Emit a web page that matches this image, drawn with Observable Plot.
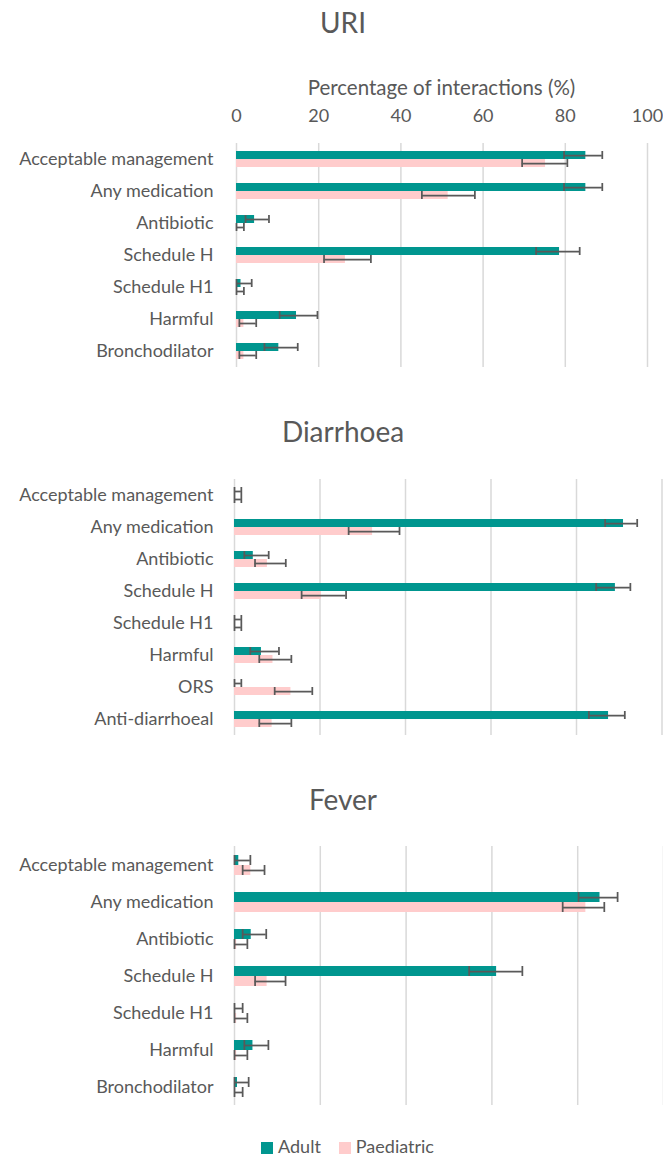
<!DOCTYPE html>
<html>
<head>
<meta charset="utf-8">
<script src="https://cdn.jsdelivr.net/npm/d3@7"></script>
<script src="https://cdn.jsdelivr.net/npm/@observablehq/plot@0.6"></script>
<style>
  html, body { margin: 0; padding: 0; background: #fff; }
  #root { position: relative; width: 663px; height: 1157px; overflow: hidden; font-family: Lato, sans-serif; color: #595959; }
  .title { position: absolute; left: 0; width: 686px; text-align: center; font-size: 28px; line-height: 28px; }
  .axt { position: absolute; left: 236px; width: 411px; text-align: center; font-size: 20.5px; line-height: 20.5px; }
  .legend { position: absolute; top: 1139px; left: 0; width: 663px; display: flex; justify-content: center; gap: 18px; font-size: 18px; line-height: 14px; padding-left: 32px; box-sizing: border-box; }
  .legend span.sw { display: inline-block; width: 12px; height: 12px; margin-right: 5px; vertical-align: -1px; }
</style>
</head>
<body>
<div id="root"></div>
<script>
const seriesNames = ["Adult", "Paediatric"];
const seriesColors = ["#00968f", "#ffcccc"];
const xTicks = [0, 20, 40, 60, 80, 100];
const axisTitle = "Percentage of interactions (%)";

// URI
const uriTitle = "URI";
const uriCats = ["Acceptable management", "Any medication", "Antibiotic", "Schedule H", "Schedule H1", "Harmful", "Bronchodilator"];
const uriAdult   = [85.0, 85.0, 4.4, 78.6, 1.1, 14.6, 10.3];
const uriAdultLo = [79.7, 79.7, 2.2, 72.9, 0.0, 10.5, 6.8];
const uriAdultHi = [89.0, 89.0, 7.9, 83.5, 3.7, 19.7, 14.9];
const uriPaed    = [75.2, 51.5, 0.0, 26.5, 0.0, 1.8, 1.8];
const uriPaedLo  = [69.5, 45.1, 0.0, 21.3, 0.0, 0.7, 0.7];
const uriPaedHi  = [80.5, 58.0, 1.8, 32.7, 1.8, 4.8, 4.8];

// Diarrhoea
const diaTitle = "Diarrhoea";
const diaCats = ["Acceptable management", "Any medication", "Antibiotic", "Schedule H", "Schedule H1", "Harmful", "ORS", "Anti-diarrhoeal"];
const diaAdult   = [0.0, 91.0, 4.4, 89.1, 0.0, 6.3, 0.0, 87.5];
const diaAdultLo = [0.0, 86.7, 2.3, 84.6, 0.0, 3.7, 0.0, 82.9];
const diaAdultHi = [1.6, 94.2, 8.0, 92.6, 1.6, 10.4, 1.6, 91.3];
const diaPaed    = [0.0, 32.3, 7.7, 20.3, 0.0, 9.0, 13.2, 8.8];
const diaPaedLo  = [0.0, 26.7, 4.8, 15.7, 0.0, 5.8, 9.4, 5.8];
const diaPaedHi  = [1.6, 38.6, 12.0, 26.1, 1.6, 13.3, 18.2, 13.3];

// Fever
const fevTitle = "Fever";
const fevCats = ["Acceptable management", "Any medication", "Antibiotic", "Schedule H", "Schedule H1", "Harmful", "Bronchodilator"];
const fevAdult   = [1.0, 85.2, 3.9, 61.1, 0.0, 4.3, 0.7];
const fevAdultLo = [0.0, 80.2, 1.9, 54.7, 0.0, 2.3, 0.0];
const fevAdultHi = [3.7, 89.3, 7.4, 67.1, 1.9, 7.9, 3.3];
const fevPaed    = [3.8, 81.9, 0.5, 7.6, 0.5, 0.5, 0.0];
const fevPaedLo  = [1.9, 76.5, 0.0, 4.8, 0.0, 0.0, 0.0];
const fevPaedHi  = [7.0, 86.2, 3.0, 11.9, 3.0, 3.0, 1.9];

function rowsOf(cats, a, aLo, aHi, p, pLo, pHi) {
  const rows = [];
  cats.forEach((c, i) => {
    rows.push({cat: c, series: seriesNames[0], value: a[i], lo: aLo[i], hi: aHi[i]});
    rows.push({cat: c, series: seriesNames[1], value: p[i], lo: pLo[i], hi: pHi[i]});
  });
  return rows;
}

function panel(cats, rows, o) {
  const err = "#595959";
  return Plot.plot({
    width: 663,
    height: o.height,
    marginLeft: o.ml,
    marginRight: o.mr,
    marginTop: o.mt,
    marginBottom: o.mb,
    style: {fontFamily: "Lato, sans-serif", fontSize: "18px", color: "#595959", background: "transparent", overflow: "visible"},
    x: o.top
      ? {domain: [0, 100], axis: "top", ticks: xTicks, tickSize: 0, tickPadding: o.tp, label: null}
      : {domain: [0, 100], axis: null},
    fy: {domain: cats, padding: 0, axis: "left", tickSize: 0, tickPadding: o.lp, label: null},
    y: {domain: seriesNames, paddingInner: 0, paddingOuter: o.po, axis: null},
    color: {domain: seriesNames, range: seriesColors},
    marks: [
      Plot.gridX(xTicks, {stroke: "#d9d9d9", strokeOpacity: 1, strokeWidth: 1.5}),
      Plot.barX(rows, {x: "value", y: "series", fy: "cat", fill: "series"}),
      Plot.ruleY(rows, {x1: "lo", x2: "hi", y: "series", fy: "cat", stroke: err, strokeWidth: 1.75}),
      Plot.tickX(rows, {x: "lo", y: "series", fy: "cat", stroke: err, strokeWidth: 1.75}),
      Plot.tickX(rows, {x: "hi", y: "series", fy: "cat", stroke: err, strokeWidth: 1.75})
    ]
  });
}

const root = document.getElementById("root");
function addDiv(cls, top, text) {
  const d = document.createElement("div");
  d.className = cls;
  d.style.top = top + "px";
  d.textContent = text;
  root.appendChild(d);
  return d;
}
function addSvg(svg, top) {
  svg.style.position = "absolute";
  svg.style.left = "0px";
  svg.style.top = top + "px";
  root.appendChild(svg);
}

addDiv("title", 8, uriTitle);
addDiv("axt", 77, axisTitle);
addSvg(panel(uriCats, rowsOf(uriCats, uriAdult, uriAdultLo, uriAdultHi, uriPaed, uriPaedLo, uriPaedHi),
  {height: 275, ml: 236, mr: 16, mt: 40, mb: 5, top: true, tp: 22, lp: 23, po: 0.93}), 100);

addDiv("title", 417, diaTitle);
addSvg(panel(diaCats, rowsOf(diaCats, diaAdult, diaAdultLo, diaAdultHi, diaPaed, diaPaedLo, diaPaedHi),
  {height: 272, ml: 234, mr: 1.5, mt: 7, mb: 5, top: false, lp: 21, po: 0.89}), 470);

addDiv("title", 785, fevTitle);
addSvg(panel(fevCats, rowsOf(fevCats, fevAdult, fevAdultLo, fevAdultHi, fevPaed, fevPaedLo, fevPaedHi),
  {height: 270, ml: 234, mr: 0, mt: 6, mb: 5, top: false, lp: 21, po: 0.85}), 840);

// legend
const lg = document.createElement("div");
lg.className = "legend";
seriesNames.forEach((s, i) => {
  const item = document.createElement("div");
  const sw = document.createElement("span");
  sw.className = "sw";
  sw.style.background = seriesColors[i];
  item.appendChild(sw);
  item.appendChild(document.createTextNode(s));
  lg.appendChild(item);
});
root.appendChild(lg);
</script>
</body>
</html>
